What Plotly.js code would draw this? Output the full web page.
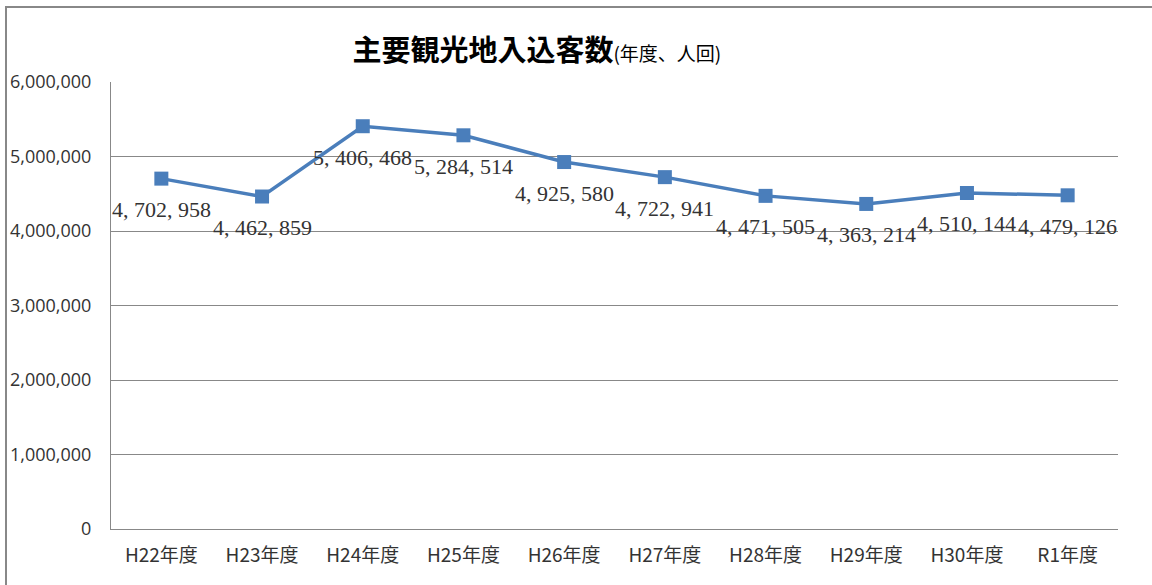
<!DOCTYPE html>
<html><head><meta charset="utf-8">
<script src="https://cdn.plot.ly/plotly-3.0.1.min.js"></script>
<style>
body{margin:0;background:#fff;}
#frame{position:absolute;left:5px;top:6px;width:1200px;height:700px;border-top:2px solid #888;border-left:2px solid #888;pointer-events:none;z-index:5;}
#chart{position:absolute;left:0;top:0;width:1152px;height:585px;}
</style></head>
<body>
<div id="chart"></div>
<div id="frame"></div>
<script>
const categories = ["H22年度","H23年度","H24年度","H25年度","H26年度","H27年度","H28年度","H29年度","H30年度","R1年度"];
const visitors = [4702958,4462859,5406468,5284514,4925580,4722941,4471505,4363214,4510144,4479126];
const yTicks = [0,1000000,2000000,3000000,4000000,5000000,6000000];

function fmt(v){ return v.toLocaleString('en-US').replace(/,/g, ', '); }

const lineColor = '#4a7ebb';
const annotations = categories.map((c,i)=>({
  x: c, y: visitors[i], xref:'x', yref:'y',
  text: fmt(visitors[i]), showarrow:false, yshift:-31,
  font:{family:'"Liberation Serif", "DejaVu Serif", serif', size:22, color:'#333'}
}));

const data = [{
  type:'scatter', mode:'lines+markers', x:categories, y:visitors,
  line:{color:lineColor, width:3.5},
  marker:{symbol:'square', size:14, color:lineColor},
  hoverinfo:'skip'
}];

const layout = {
  width:1152, height:585,
  margin:{l:111, r:34, t:82, b:56},
  paper_bgcolor:'#fff', plot_bgcolor:'#fff',
  showlegend:false,
  title:{
    text:'<b>主要観光地入込客数</b><span style="font-size:19px">(年度、人回)</span>',
    xref:'container', yref:'container', x:0.466, y:1-51/585, xanchor:'center', yanchor:'middle',
    font:{family:'"Noto Sans CJK JP", sans-serif', size:29, color:'#000'}
  },
  xaxis:{
    type:'category', range:[-0.5, categories.length-0.5],
    showgrid:false, showline:true, linecolor:'#888', linewidth:1,
    ticks:'', tickfont:{family:'"Noto Sans CJK JP", "Open Sans", sans-serif', size:19, color:'#333'},
    ticklabelstandoff:9, fixedrange:true
  },
  yaxis:{
    range:[0,6000000], tickvals:yTicks, ticktext:yTicks.map(v=>v.toLocaleString('en-US')),
    showgrid:true, gridcolor:'#888', gridwidth:1, zeroline:false,
    showline:true, linecolor:'#888', linewidth:1, ticks:'',
    tickfont:{family:'"Open Sans", "Liberation Sans", sans-serif', size:18, color:'#333'},
    ticklabelstandoff:15, fixedrange:true
  },
  annotations: annotations
};

Plotly.newPlot('chart', data, layout, {displayModeBar:false, staticPlot:true});
</script>
</body></html>
